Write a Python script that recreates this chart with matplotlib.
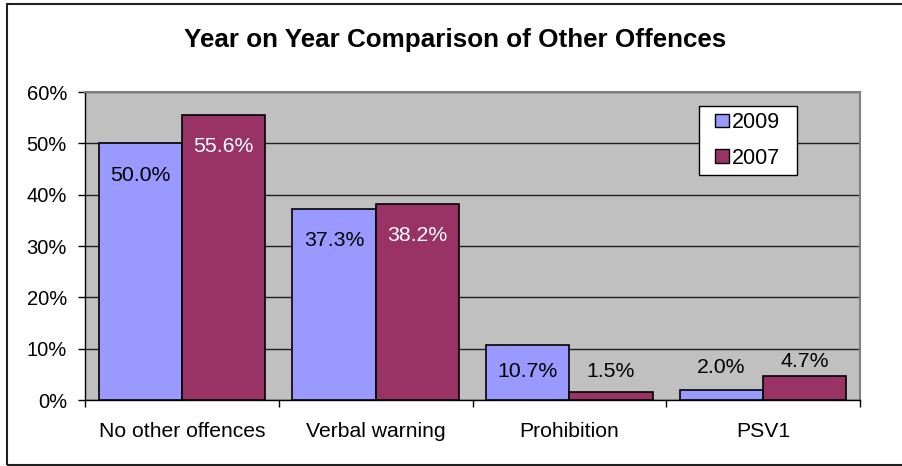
import matplotlib
matplotlib.use("Agg")
import matplotlib.pyplot as plt
from matplotlib.patches import Rectangle, Patch
from matplotlib.legend_handler import HandlerPatch
from matplotlib.ticker import FixedLocator, PercentFormatter
import numpy as np

categories = ["No other offences", "Verbal warning", "Prohibition", "PSV1"]
years = ["2009", "2007"]
values_2009 = [50.0, 37.3, 10.7, 2.0]
values_2007 = [55.6, 38.2, 1.5, 4.7]
y_ticks = [0, 10, 20, 30, 40, 50, 60]
title = "Year on Year Comparison of Other Offences"

# label offsets in points (negative = inside bar below its top)
offsets_2009 = [-23, -23, -19, 16]
offsets_2007 = [-23, -23, 15, 10]
inside_2007 = [True, True, False, False]

plt.rcParams["font.family"] = ["Liberation Sans", "DejaVu Sans"]

W, H = 903, 466
fig = plt.figure(figsize=(W / 100, H / 100), dpi=100)
fig.patch.set_facecolor("white")

# outer chart border
fig.patches.append(Rectangle((7 / W, 1 - 465 / H), 1.0, (465 - 4) / H,
                             transform=fig.transFigure, fill=False,
                             edgecolor="#202020", linewidth=1.5, zorder=0))

ax = fig.add_axes([85 / W, (H - 400) / H, (860 - 85) / W, (400 - 92) / H])
ax.set_facecolor("#C0C0C0")

x = np.arange(len(categories))
bw = 0.43
c09, c07 = "#9999FF", "#993366"
b1 = ax.bar(x - bw / 2, values_2009, bw, color=c09, edgecolor="black", linewidth=1.2, zorder=3)
b2 = ax.bar(x + bw / 2, values_2007, bw, color=c07, edgecolor="black", linewidth=1.2, zorder=3)

fs = 14.5
lfs = 15.3
for rect, v, off in zip(b1, values_2009, offsets_2009):
    ax.annotate(f"{v:.1f}%", (rect.get_x() + rect.get_width() / 2, v),
                xytext=(0, off), textcoords="offset points", ha="center", va="center",
                fontsize=lfs, color="black", zorder=4)
for rect, v, off, ins in zip(b2, values_2007, offsets_2007, inside_2007):
    ax.annotate(f"{v:.1f}%", (rect.get_x() + rect.get_width() / 2, v),
                xytext=(0, off), textcoords="offset points", ha="center", va="center",
                fontsize=lfs, color="white" if ins else "black", zorder=4)

ax.set_xlim(-0.5, len(categories) - 0.5)
ax.set_ylim(0, 60)
ax.yaxis.set_major_locator(FixedLocator(y_ticks))
ax.yaxis.set_major_formatter(PercentFormatter(decimals=0))
ax.grid(axis="y", color="#202020", linewidth=1.0, zorder=1)
ax.set_axisbelow(True)

ax.set_xticks(x)
ax.set_xticklabels(categories)
ax.set_xticks(np.arange(len(categories) + 1) - 0.5, minor=True)
ax.tick_params(axis="x", which="major", length=0, pad=16, labelsize=15.2)
ax.tick_params(axis="x", which="minor", length=5, width=1, direction="out")
ax.tick_params(axis="y", which="major", length=5, width=1, direction="out", pad=8, labelsize=fs)

for side in ("top", "right"):
    ax.spines[side].set_color("#808080")
    ax.spines[side].set_linewidth(1.5)
for side in ("left", "bottom"):
    ax.spines[side].set_color("black")
    ax.spines[side].set_linewidth(1.0)

fig.text(455 / W, 1 - 40 / H, title, ha="center", va="center",
         fontsize=18.7, fontweight="bold")


def square_key(legend, orig_handle, xdescent, ydescent, width, height, fontsize):
    # small square key sitting at the right end of the handle box
    s = height
    return Rectangle((-xdescent + width - s, -ydescent), s, s)


handles = [Patch(facecolor=c09, edgecolor="black"), Patch(facecolor=c07, edgecolor="black")]
leg = fig.legend(handles, years, loc="upper left",
                 bbox_to_anchor=(699 / W, 1 - 174 / H, 98 / W, 68 / H), mode="expand",
                 fontsize=15.5, frameon=True, fancybox=False, edgecolor="black",
                 framealpha=1, handlelength=1.1, handleheight=0.6, handletextpad=0.15,
                 borderpad=0.29, labelspacing=0.67, borderaxespad=0,
                 handler_map={Patch: HandlerPatch(patch_func=square_key)})
leg.get_frame().set_linewidth(1.0)

fig.savefig("out.png", dpi=100, facecolor="white")
